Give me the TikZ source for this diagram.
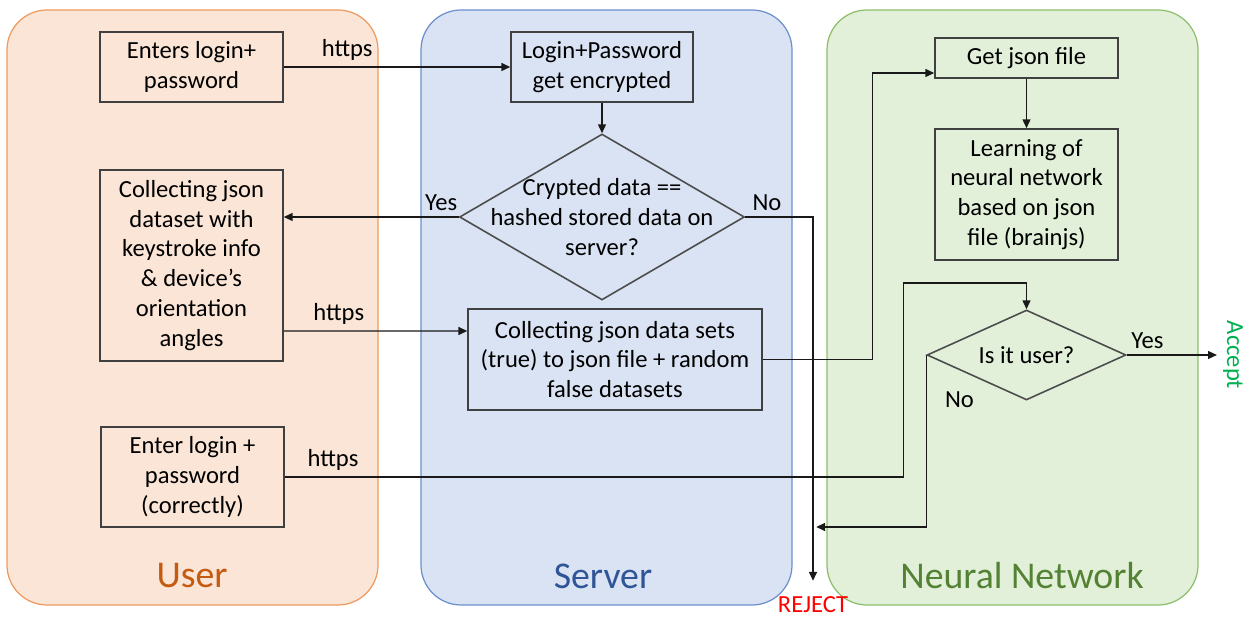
\documentclass[tikz,border=0pt]{standalone}
\usepackage{fontspec}
\setmainfont{Carlito}
\usetikzlibrary{shapes,arrows.meta,positioning,calc}

\definecolor{userfill}{HTML}{FBE5D6}
\definecolor{userline}{HTML}{EE9A5D}
\definecolor{usertext}{HTML}{C55A11}
\definecolor{serverfill}{HTML}{DAE3F3}
\definecolor{serverline}{HTML}{6C8FCD}
\definecolor{servertext}{HTML}{2F5597}
\definecolor{netfill}{HTML}{E2F0D9}
\definecolor{netline}{HTML}{8DBE6A}
\definecolor{nettext}{HTML}{548235}
\definecolor{acceptgreen}{HTML}{00B050}

\begin{document}
\begin{tikzpicture}[x=0.02cm, y=-0.02cm, >={Triangle[length=5pt,width=4.5pt]},
        font=\fontsize{14}{17}\selectfont,
        lane/.style={rounded corners=0.8cm, line width=0.7pt},
        lanename/.style={font=\fontsize{21.5}{26}\selectfont},
        box/.style={draw=black!75, line width=0.9pt, align=center, inner sep=2pt},
        check/.style={diamond, draw=black!70, line width=0.9pt, inner sep=0pt},
        flow/.style={->, line width=0.7pt, draw=black!90}]
        \useasboundingbox (0,0) rectangle (1248,617);

        % Lanes
        \draw[lane, draw=userline, fill=userfill] (7,10) rectangle (378,605);
        \draw[lane, draw=serverline, fill=serverfill] (421,10) rectangle (792,605);
        \draw[lane, draw=netline, fill=netfill] (827,10) rectangle (1198,605);
        \node[lanename, text=usertext] (usertitle) at (192,576) {User};
        \node[lanename, text=servertext] (servertitle) at (603,576) {Server};
        \node[lanename, text=nettext] (nettitle) at (1022,576) {Neural Network};

        % User
        \node[box, minimum width=3.66cm, minimum height=1.4cm] (login) at (191.5,67) {Enters login+\\password};
        \node[box, minimum width=3.66cm, minimum height=3.82cm] (collect) at (191.5,265.5) {Collecting json\\dataset with\\keystroke info\\\& device’s\\orientation\\angles};
        \node[box, minimum width=3.66cm, minimum height=2cm] (relogin) at (192.5,477) {Enter login +\\password\\(correctly)};

        % Server
        \node[box, minimum width=3.64cm, minimum height=1.4cm] (encrypt) at (602,67) {Login+Password\\get encrypted};
        \node[check, minimum width=5.7cm, minimum height=3.32cm, label={[align=center]center:{Crypted data ==\\hashed stored data on\\server?}}] (match) at (602,217) {};
        \node[box, minimum width=5.88cm, minimum height=2.02cm] (gather) at (615,359.5) {Collecting json data sets\\(true) to json file + random\\false datasets};

        % Neural network
        \node[box, minimum width=3.66cm, minimum height=0.8cm] (getjson) at (1026.5,58) {Get json file};
        \node[box, minimum width=3.66cm, minimum height=2.62cm, below of=getjson, node distance=2.73cm] (learn) {Learning of\\neural network\\based on json\\file (brainjs)};
        \node[check, minimum width=3.98cm, minimum height=1.8cm, label=center:{Is it user?}] (isuser) at (1026.5,355) {};

        \node[text=acceptgreen, rotate=-90] (accept) at (1233,355) {Accept};
        \node[text=red, inner sep=0pt] (reject) at (813,605) {REJECT};

        % Edges
        \draw[flow] (login) -- node[above, pos=0.28] (https1) {https} (encrypt);
        \draw[flow] (encrypt) -- (match);
        \draw[flow] (match.west) -- node[above, pos=0.1] (yes1) {Yes} (match.west -| collect.east);
        \draw[flow, shorten >=9pt] (match.east) -| node[above, pos=0.16] (no1) {No} (reject.north);
        \draw[flow] ([yshift=-1.31cm]collect.east) -- node[above, pos=0.3] (https2) {https} ([yshift=0.57cm]gather.west);
        \draw[flow] (gather.east) -- ++(110,0) |- ([yshift=-0.3cm]getjson.west);
        \draw[flow] (getjson) -- (learn);
        \draw[flow] (relogin.east) -- node[above, pos=0.078] (https3) {https} ++(619,0) -- ++(0,-194) -| (isuser.north);
        \draw[flow] (isuser.west) -- node[pos=0.26, right=7pt] (no2) {No} ++(0,172) -- ++(-110,0);
        \draw[flow] (isuser.east) -- node[above, pos=0.23] (yes2) {Yes} (accept.south);
\end{tikzpicture}
\end{document}
